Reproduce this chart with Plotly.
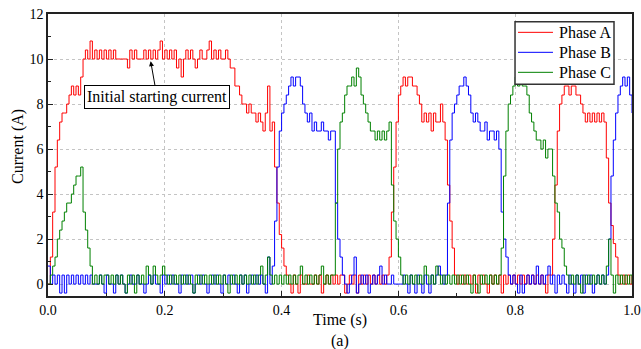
import plotly.graph_objects as go

# Sampling period of the recorded currents (s)
SAMPLE_PERIOD = 0.004

# Phase currents (A), one value per sample
phase_a = [
    0, 1.2, 3.2, 5.2, 6.4, 7.2, 7.6, 7.6, 8.0, 8.4,
    8.8, 8.4, 8.8, 8.4, 9.2, 10.0, 10.4, 10.0, 10.8, 10.0,
    10.4, 10.0, 10.4, 10.0, 10.4, 10.0, 10.4, 10.0, 10.4, 10.0,
    10.0, 10.0, 10.0, 10.0, 9.6, 10.4, 10.0, 10.4, 10.0, 10.0,
    10.0, 10.4, 10.0, 10.4, 10.0, 10.4, 10.0, 10.4, 10.8, 10.0,
    10.4, 10.0, 10.4, 10.0, 10.4, 9.6, 10.0, 9.2, 10.0, 10.4,
    10.0, 10.4, 10.0, 9.6, 10.0, 10.4, 10.0, 10.0, 10.4, 10.8,
    10.0, 10.4, 10.0, 10.4, 10.0, 10.0, 10.4, 10.0, 9.6, 9.6,
    8.8, 8.8, 8.4, 8.0, 8.0, 7.6, 8.0, 7.6, 7.6, 7.2,
    7.6, 7.2, 6.8, 7.6, 8.8, 6.8, 7.2, 5.2, 3.6, 2.2,
    1.6, 0.8, 0.4, 0, -0.4, 0.4, 0, -0.4, 0.4, 0,
    0, 0.4, 0, 0, 0.4, 0, 0.4, -0.4, 0, 0.4,
    0, 0.4, 0, 0.4, 0, 0.4, 0.4, -0.4, 0, 0.4,
    0, 0.4, -0.4, 0.4, 0, 0.4, 0, 0.4, 0, 0.4,
    0, 0.4, 0, 0.4, 0, 0.4, 1.2, 3.2, 5.2, 7.2,
    8.4, 8.8, 9.2, 8.8, 9.2, 9.2, 8.8, 8.8, 8.4, 8.0,
    7.2, 7.6, 7.2, 7.6, 6.8, 7.6, 7.2, 7.2, 8.0, 7.2,
    6.4, 4.4, 2.8, 1.6, 0.4, 0, 0.4, 0, 0.4, 0,
    0.4, 0, 0.4, -0.4, 0.4, 0, 0.4, 0, -0.4, 0.4,
    0, 0.4, 0, 0.4, -0.4, 0.4, 0, 0.4, 0, 0.4,
    0, 0.4, 0, 0.4, 0, 0.4, 0, 0.4, 0, 0.4,
    0, 0.4, 0, -0.4, 0.4, 0.4, 2.0, 4.4, 6.8, 8.0,
    8.4, 8.8, 8.8, 8.4, 8.8, 8.8, 8.4, 8.4, 8.0, 7.6,
    7.2, 7.6, 7.2, 7.6, 7.2, 7.6, 7.2, 7.6, 7.2, 5.6,
    3.6, 2.6, 1.8, 1.2, 0.4, 0, 0.4, 0, 0.4, 0,
    0.4,
]

phase_b = [
    0.8, 0, 0.4, 0, 0.4, -0.4, 0.4, -0.4, 0.4, 0,
    0.4, 0, 0.4, 0, 0.4, 0, 0.4, 0, 0.4, 0,
    0, 0, 0.4, 0, -0.4, 0.4, 0, 0, -0.4, 0.4,
    0, 0.4, 0, -0.4, 0, 0.4, 0, 0, 0.4, 0,
    0, -0.4, 0, 0.4, 0, 0.4, 0, 0, -0.4, 0.4,
    0, 0.4, 0, 0.4, 0, 0, -0.4, 0.4, 0, 0.4,
    0, 0.4, -0.4, 0, 0.4, 0, 0.4, 0, -0.4, 0,
    0.4, 0, 0.4, 0, -0.4, 0.4, 0, 0.4, 0, 0.4,
    0, -0.4, 0.4, 0, 0.4, -0.4, 0, 0.4, 0, 0.4,
    0, 0.4, 0, -0.4, 1.2, 0, 0.8, 2.8, 5.2, 6.8,
    7.6, 8.0, 8.4, 8.8, 9.2, 8.8, 9.2, 9.2, 8.8, 8.0,
    7.6, 7.2, 7.6, 6.8, 7.2, 6.8, 6.8, 7.2, 6.8, 6.8,
    6.4, 6.8, 6.8, 3.6, 2.0, 1.2, 0.4, 0, -0.4, 0,
    0.4, 1.2, -0.4, 0, 0.4, 0, 0.4, -0.4, 0, 0.4,
    0, 0.4, 0.8, 0, 0.4, 0, 0, 0.4, 0, 0,
    0, 0, 0.4, 0, -0.4, 0.4, 0, -0.4, 0.4, 0,
    -0.4, 0.4, 0, -0.4, 0.4, 0, 0.4, 0.8, 0.4, 0,
    0.4, 3.6, 6.4, 7.6, 8.0, 8.4, 8.8, 8.8, 9.2, 8.8,
    8.4, 7.6, 7.2, 7.6, 7.2, 6.8, 6.8, 7.2, 6.4, 6.8,
    6.8, 6.4, 6.8, 6.0, 3.2, 2.0, 1.2, 0.4, 0, 0.4,
    0, -0.4, 0.4, -0.4, 0, 0.4, 0, 0.4, 0, 0.8,
    0, 0.4, 0, 0.4, 0.8, 0, 0.4, -0.4, 0.4, 0,
    0.4, 0, -0.4, 0.4, 0, -0.4, 0.4, 0, 0.4, -0.4,
    0.4, 0, 0.4, -0.4, 0, 0.4, 0, 0.4, 0, 0.4,
    2.0, 4.8, 6.4, 7.6, 8.4, 8.8, 9.2, 8.8, 9.2, 8.4,
    7.6,
]

phase_c = [
    0, 0.4, 0.8, 1.2, 2.0, 2.4, 2.8, 3.2, 3.6, 3.6,
    4.0, 4.4, 4.8, 4.8, 5.2, 3.2, 2.4, 1.6, 0.8, 0,
    0.4, 0, 0.4, 0, 0.4, 0.4, 0, 0.4, 0, 0.4,
    0, 0.4, 0, -0.4, 0.4, 0, 0.4, -0.4, 0.4, 0,
    0.4, 0, 0.8, 0.4, 0, 0.8, 0.4, 0, 0.4, 0.8,
    0.4, 0, 0.4, 0, 0.4, 0, 0.4, 0, 0.4, 0,
    0.4, 0, -0.4, 0.4, 0, 0.4, 0, 0.4, 0, 0.4,
    0, 0.4, 0, 0.4, 0, 0.4, 0, -0.4, 0.4, 0,
    0.4, 0, 0.4, 0, 0.4, 0, 0.4, 0, 0.4, 0,
    0.4, 0.8, 0, 0.4, 1.2, 0.4, 0, 0.4, 0, 0.4,
    0, 0.4, 0, 0.4, 0, 0.4, 0, 0.4, 0.8, 0,
    0.4, 0, 0.4, 0, 0.4, 0, 0.4, 0.8, 0, 0.4,
    0, 0.4, 0.4, 3.6, 6.0, 7.2, 7.6, 8.4, 8.8, 8.8,
    9.2, 8.8, 9.6, 9.2, 8.4, 8.0, 7.6, 7.2, 6.8, 6.8,
    6.4, 6.8, 6.4, 6.8, 6.4, 6.8, 7.2, 4.4, 2.8, 2.0,
    1.2, 0.4, 0, 0.4, 0, 0.4, 0, 0.4, 0, 0.4,
    0, 0.8, 0.4, 0, 0.4, 0, 0.8, 0.4, 0, 0.4,
    0, 0.4, 0, 0.4, 0, 0.4, 0, 0.4, 0, 0.4,
    0, -0.4, 0.4, 0, -0.4, 0.4, 0, 0.4, 0, 0.4,
    0, 0.4, 0, 0.4, 1.6, 4.8, 6.8, 8.0, 8.4, 8.8,
    9.2, 8.8, 9.2, 8.8, 8.8, 8.4, 7.6, 7.2, 6.8, 6.4,
    6.4, 6.0, 6.4, 5.6, 6.0, 6.0, 4.8, 3.6, 3.2, 2.0,
    1.6, 0.8, 0.4, 0, 0.4, 0, 0.4, 0, -0.4, 0.4,
    0, 0.4, 0, 0.4, 0, 0.4, 0, 0.4, 0, 0.8,
    2.0, 0.4, -0.4, 0.4, 0, 0.4, 0, 0.4, 0, 0.4,
    0,
]

series_names = ["Phase A", "Phase B", "Phase C"]
series_values = [phase_a, phase_b, phase_c]
series_colors = ["#ff0000", "#0000ff", "#008000"]

x_tick_values = [0.0, 0.2, 0.4, 0.6, 0.8, 1.0]
x_tick_labels = ["0.0", "0.2", "0.4", "0.6", "0.8", "1.0"]
y_tick_values = [0, 2, 4, 6, 8, 10, 12]
y_tick_labels = ["0", "2", "4", "6", "8", "10", "12"]

annotation_text = "Initial starting current"
annotation_target = (0.1758, 9.9)
annotation_box = (0.1866, 8.33)

FONT = "Liberation Serif, Times New Roman, serif"

fig = go.Figure()
for name, vals, col in zip(series_names, series_values, series_colors):
    fig.add_trace(go.Scatter(
        y=vals, x0=0, dx=SAMPLE_PERIOD, mode="lines", name=name,
        line=dict(color=col, width=1, shape="hv"), hoverinfo="skip",
        showlegend=False,
    ))

axis_common = dict(
    showline=True, linecolor="#222222", linewidth=1.5, mirror=True,
    ticks="inside", ticklen=5, tickwidth=1, tickcolor="#222222",
    showgrid=True, gridcolor="#c4c4c4", griddash="dot", gridwidth=1,
    zeroline=False, automargin=False, ticklabeloverflow="allow",
    tickfont=dict(family=FONT, size=14, color="black"),
)

fig.update_xaxes(
    range=[0, 1.0], tickmode="array", tickvals=x_tick_values, ticktext=x_tick_labels,
    minor=dict(ticks="inside", ticklen=3, tickcolor="#222222", dtick=0.1, tick0=0, showgrid=False),
    **axis_common,
)
fig.update_yaxes(
    range=[-0.53, 12], tickmode="array", tickvals=y_tick_values, ticktext=y_tick_labels,
    minor=dict(ticks="inside", ticklen=3, tickcolor="#222222", dtick=1, tick0=0, showgrid=False),
    **axis_common,
)

# Legend drawn in paper coordinates (box, line samples, labels)
legend_x0, legend_x1 = 0.7997, 0.9692
legend_y0, legend_y1 = 0.7507, 0.9727
legend_rows_y = [0.9350, 0.8641, 0.7932]
legend_line_x = (0.8048, 0.8647)
legend_text_x = 0.8716

shapes = [dict(
    type="rect", xref="paper", yref="paper",
    x0=legend_x0, x1=legend_x1, y0=legend_y0, y1=legend_y1,
    line=dict(color="#333333", width=1.5), fillcolor="white", layer="above",
)]
annotations = []
for name, col, ry in zip(series_names, series_colors, legend_rows_y):
    shapes.append(dict(
        type="line", xref="paper", yref="paper",
        x0=legend_line_x[0], x1=legend_line_x[1], y0=ry, y1=ry,
        line=dict(color=col, width=1), layer="above",
    ))
    annotations.append(dict(
        text=name, x=legend_text_x, y=ry, xref="paper", yref="paper",
        showarrow=False, xanchor="left", yanchor="middle",
        font=dict(family=FONT, size=16, color="black"),
    ))

annotations += [
    dict(
        text=annotation_text, x=annotation_target[0], y=annotation_target[1],
        xref="x", yref="y", ax=annotation_box[0], ay=annotation_box[1],
        axref="x", ayref="y", showarrow=True, arrowhead=2, arrowsize=1,
        arrowwidth=1, arrowcolor="black", bgcolor="white",
        bordercolor="black", borderwidth=1, borderpad=2,
        font=dict(family=FONT, size=16, color="black"),
    ),
    dict(
        text="Current (A)", textangle=-90, x=-0.0514, y=0.532,
        xref="paper", yref="paper", showarrow=False,
        xanchor="center", yanchor="middle",
        font=dict(family=FONT, size=16, color="black"),
    ),
    dict(
        text="Time (s)", x=0.5, y=-0.085, xref="paper", yref="paper",
        showarrow=False, xanchor="center", yanchor="middle",
        font=dict(family=FONT, size=16, color="black"),
    ),
    dict(
        text="(a)", x=0.5, y=-0.16, xref="paper", yref="paper",
        showarrow=False, xanchor="center", yanchor="middle",
        font=dict(family=FONT, size=16, color="black"),
    ),
]

fig.update_layout(
    width=641, height=349,
    margin=dict(l=48, r=9, t=14, b=53),
    paper_bgcolor="white", plot_bgcolor="white",
    font=dict(family=FONT, size=16, color="black"),
    showlegend=False,
    shapes=shapes,
    annotations=annotations,
)

fig.write_html(
    "out.html",
    config={"displayModeBar": False},
    post_script="document.body.style.margin='0';document.body.style.overflow='hidden';",
)
